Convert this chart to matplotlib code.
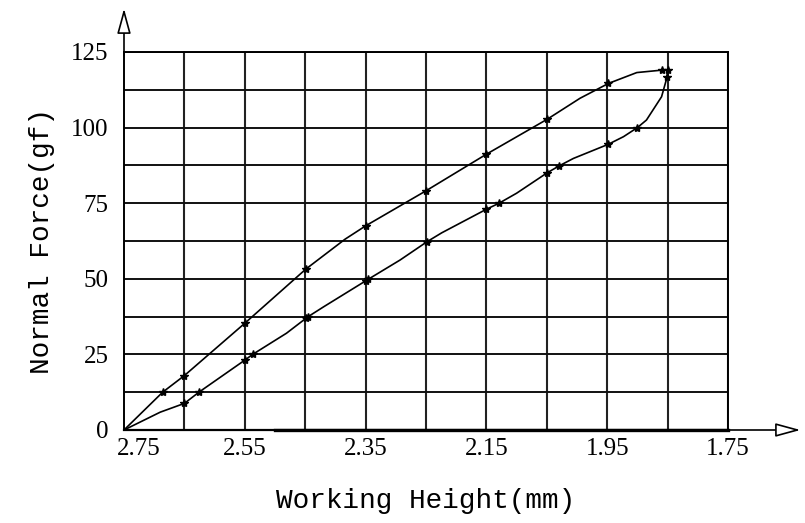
import matplotlib
matplotlib.use('Agg')
import numpy as np
from matplotlib import pyplot as plt
from matplotlib import transforms

# loading path (height decreasing), True where a measured point is marked
up_x = [2.75, 2.686, 2.65, 2.55, 2.449, 2.384, 2.35, 2.25, 2.15, 2.049, 1.995, 1.948, 1.901, 1.86, 1.849]
up_y = [0, 12.5, 18.0, 35.3, 53.2, 63.1, 67.5, 79.1, 91.2, 102.8, 109.7, 114.6, 118.2, 119.0, 119.0]
up_mark = [False, True, True, True, True, False, True, True, True, True, False, True, False, True, True]

# unloading path
dn_x = [1.849, 1.851, 1.86, 1.885, 1.90, 1.923, 1.948, 2.006, 2.029, 2.049, 2.10, 2.129, 2.15,
        2.224, 2.248, 2.293, 2.346, 2.35, 2.419, 2.445, 2.449, 2.481, 2.537, 2.55, 2.626, 2.65, 2.69, 2.75]
dn_y = [119.0, 116.6, 110.2, 102.5, 100.0, 97.0, 94.5, 89.8, 87.4, 85.1, 78.3, 75.0, 73.0,
        65.2, 62.3, 56.2, 49.8, 49.3, 40.8, 37.5, 36.9, 32.0, 25.0, 23.1, 12.5, 8.8, 5.9, 0]
dn_mark = [False, True, False, False, True, False, True, False, True, True, False, True, True,
           False, True, False, True, True, False, True, True, False, True, True, True, True, False, False]

x_grid = [2.65, 2.55, 2.45, 2.35, 2.25, 2.15, 2.05, 1.95, 1.85, 1.75]
y_grid = [12.5, 25, 37.5, 50, 62.5, 75, 87.5, 100, 112.5, 125]
x_ticks = [2.75, 2.55, 2.35, 2.15, 1.95, 1.75]
x_labels = ['2.75', '2.55', '2.35', '2.15', '1.95', '1.75']
y_ticks = [0, 25, 50, 75, 100, 125]
y_labels = ['0', '25', '50', '75', '100', '125']

fig = plt.figure(figsize=(8.05, 5.23), dpi=100)
ax = fig.add_axes([124 / 805, 1 - 430 / 523, 604 / 805, 378 / 523])

for xv in x_grid:
    ax.axvline(xv, color='#222222', lw=1.5, zorder=1)
for yv in y_grid:
    ax.axhline(yv, color='#111111', lw=1.4, zorder=1)

up_x, up_y, up_mark = np.array(up_x), np.array(up_y), np.array(up_mark)
dn_x, dn_y, dn_mark = np.array(dn_x), np.array(dn_y), np.array(dn_mark)
ax.plot(up_x, up_y, '-k', lw=1.2, zorder=3)
ax.plot(dn_x, dn_y, '-k', lw=1.2, zorder=3)
ax.plot(up_x[up_mark], up_y[up_mark], '*k', ms=6, zorder=4)
ax.plot(dn_x[dn_mark], dn_y[dn_mark], '*k', ms=6, zorder=4)

ax.set_xlim(2.75, 1.75)
ax.set_ylim(0, 125)
for s in ax.spines.values():
    s.set_linewidth(1.4)
ax.spines['bottom'].set_linewidth(1.6)
# slightly heavier stretch of the base line
ax.plot([2.50, 1.75], [0, 0], color='k', lw=2.4, clip_on=False, zorder=2)

tick_font = dict(family='Liberation Serif', size=18)
ax.set_xticks(x_ticks)
ax.set_xticklabels(x_labels, **tick_font)
ax.set_yticks(y_ticks)
ax.set_yticklabels(y_labels, **tick_font)
ax.tick_params(axis='x', length=0, pad=6)
ax.tick_params(axis='y', length=0, pad=11)
lab0 = ax.get_xticklabels()[0]
lab0.set_transform(lab0.get_transform() + transforms.ScaledTranslation(15 / 100, 0, fig.dpi_scale_trans))

# open arrow heads on both axes
arr = dict(arrowstyle='-|>,head_length=1.1,head_width=0.3', fc='white', ec='black', lw=1.2,
           mutation_scale=14, shrinkA=0, shrinkB=0)
ax.annotate('', xy=(0, 1.115), xytext=(0, 0.99), xycoords='axes fraction',
            arrowprops=arr, annotation_clip=False)
ax.annotate('', xy=(1.12, 0), xytext=(0.99, 0), xycoords='axes fraction',
            arrowprops=arr, annotation_clip=False)

ax.set_xlabel('Working Height(mm)', family='Liberation Mono', size=20, labelpad=20)
ax.set_ylabel('Normal Force(gf)', family='Liberation Mono', size=20, labelpad=12)

plt.savefig('out.png', dpi=100)
